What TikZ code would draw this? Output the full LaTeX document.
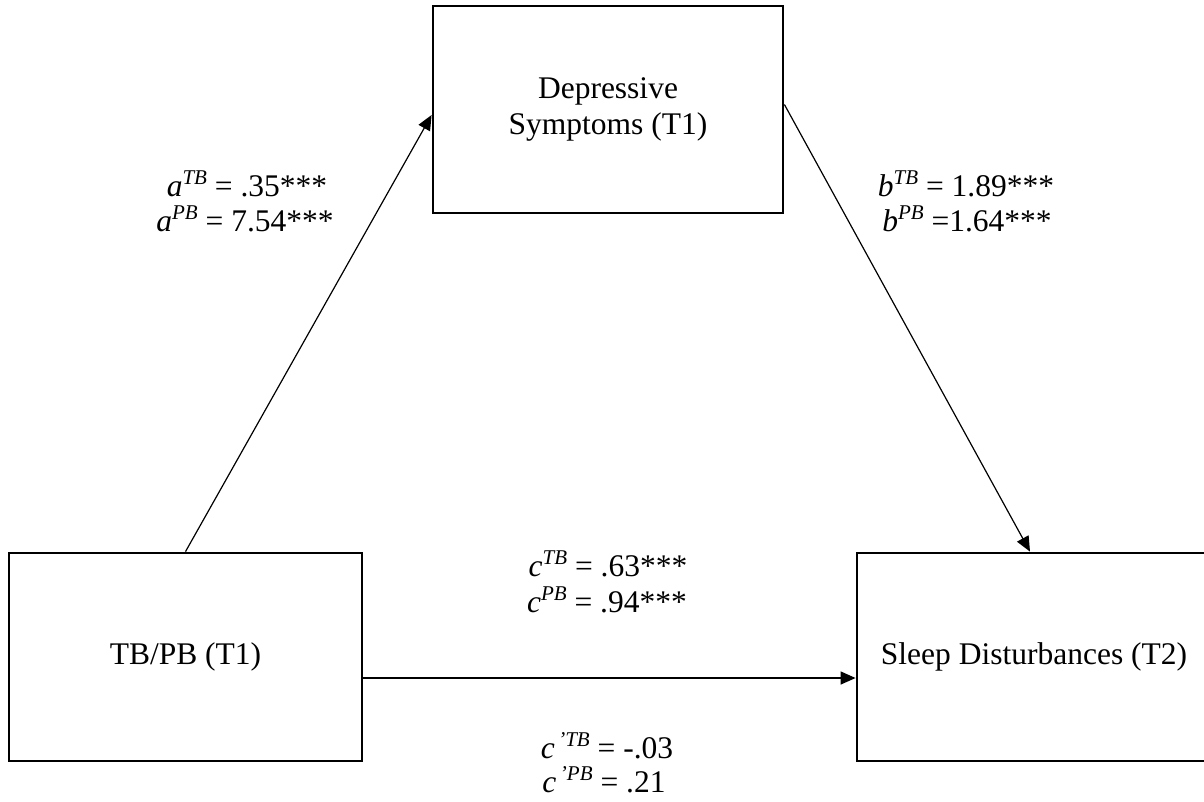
\documentclass[tikz,border=0pt]{standalone}
\usepackage{fontspec}
\setmainfont{Liberation Serif}
\usetikzlibrary{arrows.meta,calc}
\newcommand\supx[1]{\raisebox{12pt}{\fontsize{21}{21}\selectfont\itshape #1}}
\begin{document}
\begin{tikzpicture}[x=1pt,y=-1pt,
  box/.style={draw,line width=2.8pt,align=center,inner sep=0pt,font=\fontsize{31.5}{36}\selectfont},
  conn/.style={line width=1.2pt,-{Triangle[length=15pt,width=13pt]}},
  lbl/.style={anchor=base,inner sep=0pt,font=\fontsize{31.5}{36}\selectfont}]
\useasboundingbox (0,0) rectangle (1204,801);
\node[box,minimum width=350,minimum height=207] (dep) at (608,109.5) {Depressive\\Symptoms (T1)};
\node[box,minimum width=353,minimum height=208] (tb) at (185.5,657) {TB/PB (T1)};
\begin{scope}
\clip (0,0) rectangle (1204,801);
\node[box,minimum width=354,minimum height=208] (sleep) at (1034,657) {Sleep Disturbances (T2)};
\end{scope}
\draw[conn] (tb.north) -- ($(dep.west)+(0,5.5)$);
\draw[conn] ($(dep.east)+(0,-5)$) -- ($(sleep.north)+(-4,0)$);
\draw[conn] ($(tb.east)+(0,21)$) -- ($(sleep.west)+(0,21)$);
\node[lbl] (aTB) at (247,196) {\textit{a}\supx{TB} = .35***};
\node[lbl] (aPB) at (245,231) {\textit{a}\supx{PB} = 7.54***};
\node[lbl] (bTB) at (966,196) {\textit{b}\supx{TB} = 1.89***};
\node[lbl] (bPB) at (967,231) {\textit{b}\supx{PB} =1.64***};
\node[lbl] (cTB) at (608,576) {\textit{c}\supx{TB} = .63***};
\node[lbl] (cPB) at (607,612) {\textit{c}\supx{PB} = .94***};
\node[lbl] (cpTB) at (607,758) {\textit{c}\supx{\,’TB} = -.03};
\node[lbl] (cpPB) at (604,792) {\textit{c}\supx{\,’PB} = .21};
\end{tikzpicture}
\end{document}
